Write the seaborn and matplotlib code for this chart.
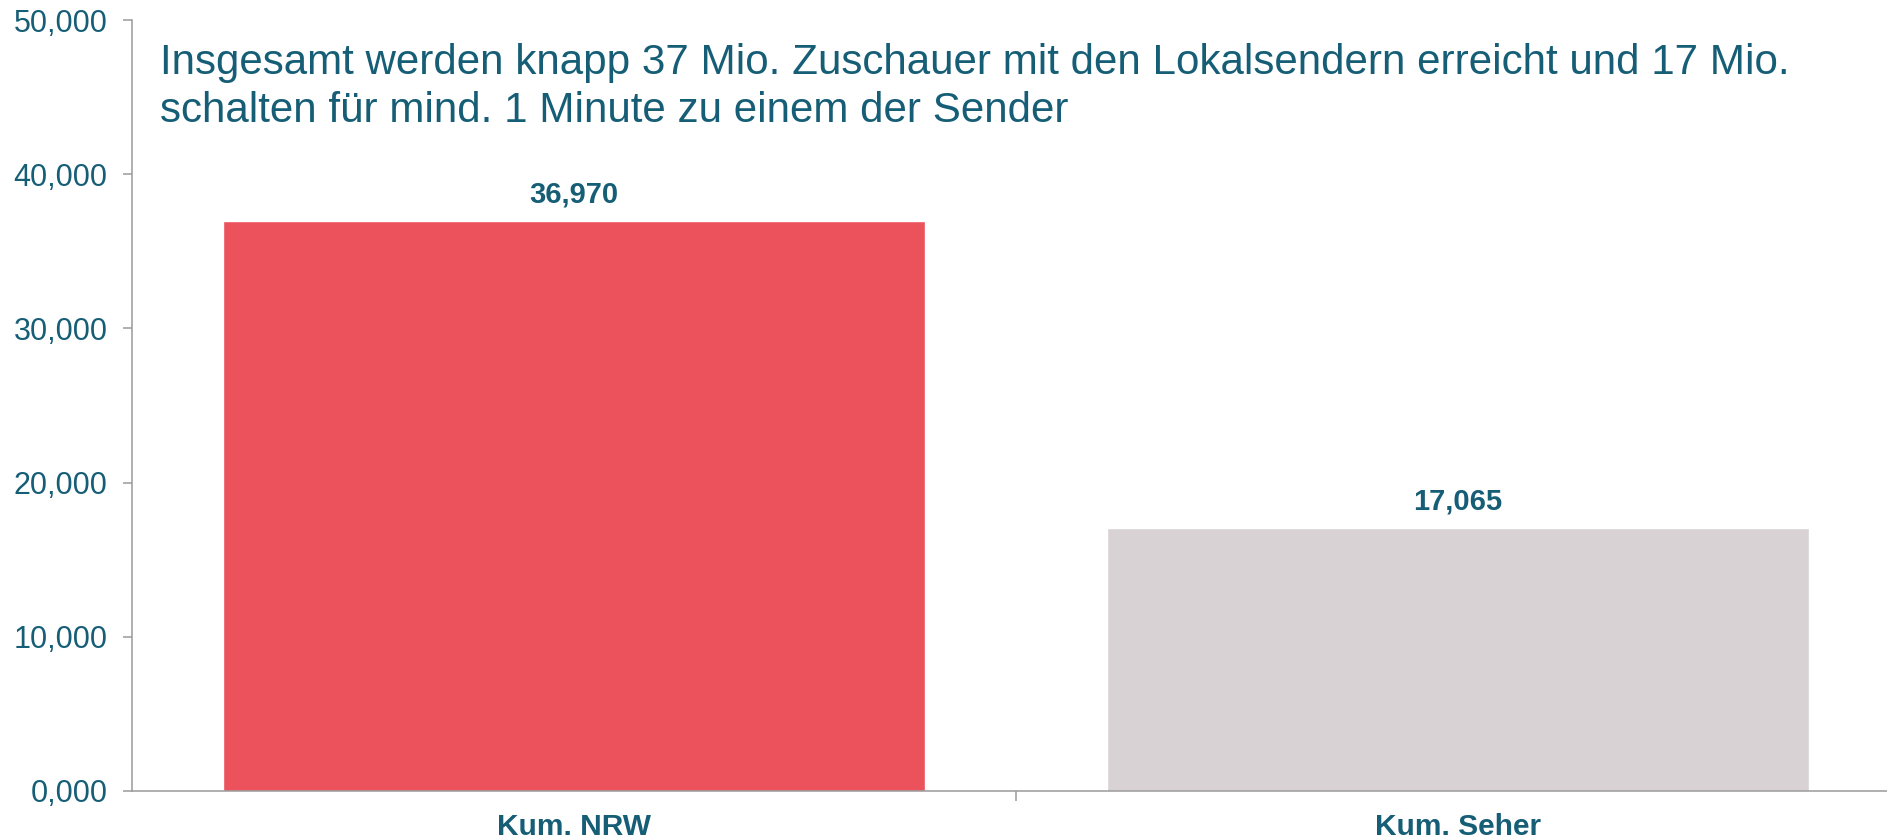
import matplotlib
matplotlib.use("Agg")
import matplotlib.pyplot as plt
import seaborn as sns
import pandas as pd

categories = ["Kum. NRW", "Kum. Seher"]
values = [36970, 17065]
bar_colors = ["#EB525C", "#D8D2D4"]
y_ticks = [0, 10000, 20000, 30000, 40000, 50000]
y_tick_labels = ["0,000", "10,000", "20,000", "30,000", "40,000", "50,000"]
title = ("Insgesamt werden knapp 37 Mio. Zuschauer mit den Lokalsendern erreicht und 17 Mio.\n"
         "schalten für mind. 1 Minute zu einem der Sender")

TEXT = "#165E76"
AXC = "#9A9A9A"

sns.set_theme(style="white")
plt.rcParams["font.family"] = ["Liberation Sans", "DejaVu Sans"]

df = pd.DataFrame({"cat": categories, "val": values})

W, H = 1887, 839
fig = plt.figure(figsize=(W / 100, H / 100), dpi=100)
ax = fig.add_axes([132 / W, 48 / H, (W - 132) / W, (791 - 20) / H])

sns.barplot(data=df, x="cat", y="val", hue="cat", palette=bar_colors,
            width=0.795, legend=False, ax=ax, saturation=1)

ax.set_xlim(-0.5, -0.5 + (W - 132) / 884)
ax.set_ylim(0, 50000)
ax.set_yticks(y_ticks)
ax.set_yticklabels(y_tick_labels)
ax.set_xlabel("")
ax.set_ylabel("")

for s in ["top", "right"]:
    ax.spines[s].set_visible(False)
for s in ["left", "bottom"]:
    ax.spines[s].set_color(AXC)
    ax.spines[s].set_linewidth(1.1)

ax.tick_params(axis="y", which="major", left=True, length=6.5, width=1.1, color=AXC,
               labelsize=22, labelcolor=TEXT, pad=11)
ax.tick_params(axis="x", which="major", bottom=False, length=0, labelsize=21.5,
               labelcolor=TEXT, pad=16)
ax.set_xticks([0.5], minor=True)
ax.tick_params(axis="x", which="minor", bottom=True, length=7, width=1.1, color=AXC)
for lab in ax.get_xticklabels():
    lab.set_fontweight("bold")

for cont in ax.containers:
    ax.bar_label(cont, labels=[f"{v:,.0f}" for v in cont.datavalues], padding=9,
                 fontsize=21, fontweight="bold", color=TEXT)

fig.text(160 / W, 1 - 43 / H, title, fontsize=30.3, color=TEXT, va="top", ha="left",
         linespacing=1.27)

fig.savefig("out.png", dpi=100)
